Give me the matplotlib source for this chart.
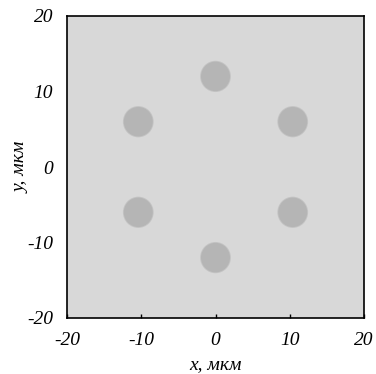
import matplotlib
matplotlib.use("Agg")
import matplotlib.pyplot as plt
from matplotlib.patches import Circle

# Rod centres (µm) and rod radius
rod_x = [0.0, 10.4, 10.4, 0.0, -10.4, -10.4]
rod_y = [12.0, 6.0, -6.0, -12.0, -6.0, 6.0]
rod_r = 1.95

ticks = [-20, -10, 0, 10, 20]

plt.rcParams['font.family'] = ['Liberation Serif', 'DejaVu Serif']
plt.rcParams['font.style'] = 'italic'

fig = plt.figure(figsize=(3.76, 3.74), dpi=100)
ax = fig.add_axes([67/376, 56/374, 297/376, 302/374])
ax.set_facecolor('#d8d8d8')

for cx, cy in zip(rod_x, rod_y):
    # soft edge ring then solid core
    ax.add_patch(Circle((cx, cy), rod_r + 0.12, facecolor='#c4c4c4', edgecolor='none'))
    ax.add_patch(Circle((cx, cy), rod_r, facecolor='#b5b5b5', edgecolor='none'))

ax.set_xlim(-20, 20)
ax.set_ylim(-20, 20)
ax.set_xticks(ticks)
ax.set_yticks(ticks)
ax.set_xticklabels([str(t) for t in ticks])
ax.set_yticklabels([str(t) for t in ticks])
ax.tick_params(axis='x', direction='in', length=3, width=1, labelsize=14, pad=10)
ax.tick_params(axis='y', direction='in', length=0, labelsize=14, pad=10)
for s in ax.spines.values():
    s.set_linewidth(1.2)

ax.set_xlabel('x, мкм', fontsize=14, labelpad=5)
ax.set_ylabel('y, мкм', fontsize=14, labelpad=-2)

fig.savefig('out.png', dpi=100)
